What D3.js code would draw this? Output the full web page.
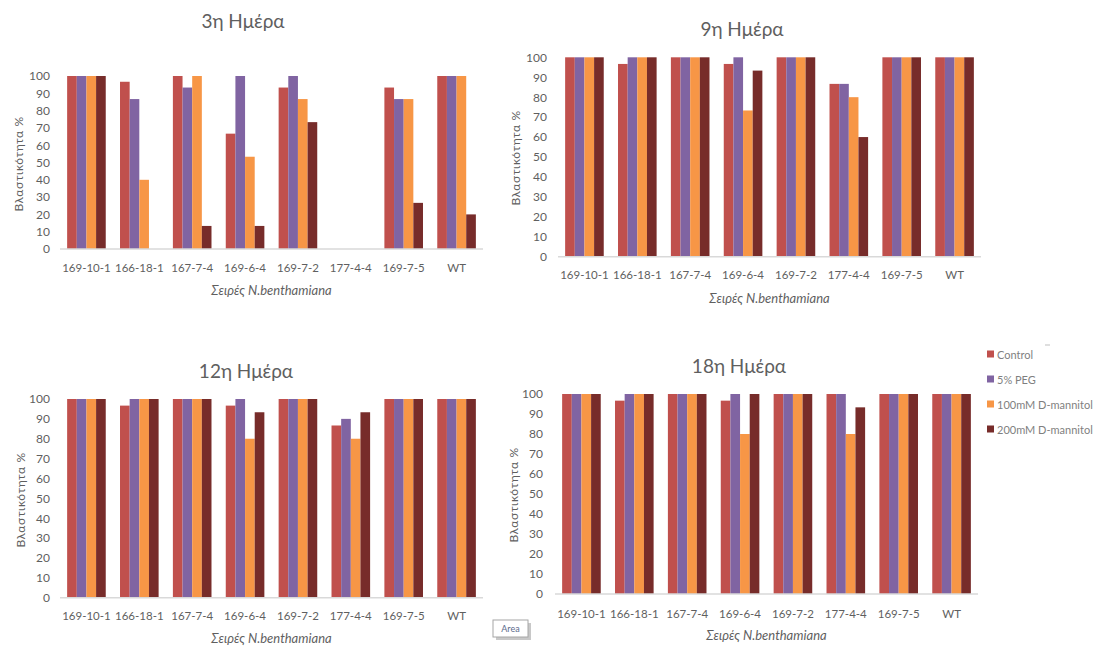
<!DOCTYPE html>
<html>
<head>
<meta charset="utf-8">
<script src="https://cdn.jsdelivr.net/npm/d3@7"></script>
<style>
  html, body { margin: 0; padding: 0; background: #ffffff; }
  svg { display: block; }
  text { font-family: Lato, "Open Sans", "Liberation Sans", sans-serif; }
</style>
</head>
<body>
<svg id="chart" width="1107" height="649"></svg>
<script>
// Plant lines and treatments
const categories = ["169-10-1", "166-18-1", "167-7-4", "169-6-4", "169-7-2", "177-4-4", "169-7-5", "WT"];
const seriesNames = ["Control", "5% PEG", "100mM D-mannitol", "200mM D-mannitol"];
const seriesColors = ["#C0504D", "#8064A2", "#F79646", "#772C2A"];
const yTicks = [0, 10, 20, 30, 40, 50, 60, 70, 80, 90, 100];

// Germination % — day 3
const day3Control = [100, 96.67, 100, 66.67, 93.33, 0, 93.33, 100];
const day3Peg     = [100, 86.67, 93.33, 100, 100, 0, 86.67, 100];
const day3Man100  = [100, 40, 100, 53.33, 86.67, 0, 86.67, 100];
const day3Man200  = [100, 0, 13.33, 13.33, 73.33, 0, 26.67, 20];

// Day 9
const day9Control = [100, 96.67, 100, 96.67, 100, 86.67, 100, 100];
const day9Peg     = [100, 100, 100, 100, 100, 86.67, 100, 100];
const day9Man100  = [100, 100, 100, 73.33, 100, 80, 100, 100];
const day9Man200  = [100, 100, 100, 93.33, 100, 60, 100, 100];

// Day 12
const day12Control = [100, 96.67, 100, 96.67, 100, 86.67, 100, 100];
const day12Peg     = [100, 100, 100, 100, 100, 90, 100, 100];
const day12Man100  = [100, 100, 100, 80, 100, 80, 100, 100];
const day12Man200  = [100, 100, 100, 93.33, 100, 93.33, 100, 100];

// Day 18
const day18Control = [100, 96.67, 100, 96.67, 100, 100, 100, 100];
const day18Peg     = [100, 100, 100, 100, 100, 100, 100, 100];
const day18Man100  = [100, 100, 100, 80, 100, 80, 100, 100];
const day18Man200  = [100, 100, 100, 100, 100, 93.33, 100, 100];

const panelTitles = ["3η Ημέρα", "9η Ημέρα", "12η Ημέρα", "18η Ημέρα"];
const yAxisTitle = "Βλαστικότητα %";
const xAxisTitle = "Σειρές N.benthamiana";

const panelSeries = [
  [day3Control, day3Peg, day3Man100, day3Man200],
  [day9Control, day9Peg, day9Man100, day9Man200],
  [day12Control, day12Peg, day12Man100, day12Man200],
  [day18Control, day18Peg, day18Man100, day18Man200]
];

// Placement of each small chart on the page
const panelLayout = [
  { left: 60,  right: 483, top: 76,    bottom: 249,   titleX: 243, titleY: 20,  tickX: 50,  xLabY: 267, xTitY: 290, yTitX: 18,  yTitY: 164 },
  { left: 558, right: 981, top: 57.3,  bottom: 256.7, titleX: 742, titleY: 28,  tickX: 547, xLabY: 275, xTitY: 298, yTitX: 515, yTitY: 158 },
  { left: 60,  right: 483, top: 399,   bottom: 597.7, titleX: 246, titleY: 370, tickX: 50,  xLabY: 616, xTitY: 638, yTitX: 20,  yTitY: 500 },
  { left: 555, right: 978, top: 394,   bottom: 594,   titleX: 739, titleY: 365, tickX: 543, xLabY: 613, xTitY: 635, yTitX: 513, yTitY: 495 }
];

const svg = d3.select("#chart");
const textGray = "#5f5f5f";
const fontStack = "Lato, 'Open Sans', sans-serif";

panelLayout.forEach((L, p) => {
  const g = svg.append("g");
  const x0 = d3.scaleBand().domain(categories).range([L.left, L.right])
    .paddingInner(0.27).paddingOuter(0.135);
  const x1 = d3.scaleBand().domain(d3.range(seriesNames.length)).range([0, x0.bandwidth()]);
  const y = d3.scaleLinear().domain([0, 100]).range([L.bottom, L.top]);

  // Title
  g.append("text")
    .attr("x", L.titleX).attr("y", L.titleY)
    .attr("text-anchor", "middle").attr("dominant-baseline", "central")
    .attr("font-size", 19).attr("fill", textGray)
    .text(panelTitles[p]);

  // Y axis: labels only
  const yAxis = d3.axisLeft(y).tickValues(yTicks).tickSize(0).tickPadding(0);
  const ya = g.append("g").attr("transform", `translate(${L.tickX},0)`).call(yAxis);
  ya.select(".domain").remove();
  ya.selectAll("text").attr("font-size", 12).attr("fill", textGray)
    .style("font-family", fontStack);

  // Bars
  const groups = g.selectAll("g.cat").data(categories).join("g")
    .attr("class", "cat")
    .attr("transform", d => `translate(${x0(d)},0)`);
  groups.selectAll("rect")
    .data((c, i) => panelSeries[p].map((s, k) => ({ k, v: s[i] })))
    .join("rect")
    .attr("x", d => x1(d.k))
    .attr("width", x1.bandwidth())
    .attr("y", d => y(d.v))
    .attr("height", d => y(0) - y(d.v))
    .attr("fill", d => seriesColors[d.k]);

  // X axis: light baseline + category labels
  const xAxis = d3.axisBottom(x0).tickSize(0).tickPadding(0);
  const xa = g.append("g").attr("transform", `translate(0,${y(0)})`).call(xAxis);
  xa.select(".domain").attr("stroke", "#d9d9d9").attr("stroke-width", 1.5)
    .attr("d", `M${L.left},0H${L.right}`);
  xa.selectAll(".tick text")
    .attr("y", L.xLabY - y(0)).attr("dy", null)
    .attr("dominant-baseline", "central")
    .attr("font-size", 11.5).attr("fill", textGray)
    .style("font-family", fontStack);

  // Axis titles
  g.append("text")
    .attr("x", (L.left + L.right) / 2).attr("y", L.xTitY)
    .attr("text-anchor", "middle").attr("dominant-baseline", "central")
    .attr("font-size", 13).attr("font-style", "italic").attr("fill", textGray)
    .text(xAxisTitle);
  g.append("text")
    .attr("transform", `translate(${L.yTitX},${L.yTitY}) rotate(-90)`)
    .attr("text-anchor", "middle").attr("dominant-baseline", "central")
    .attr("font-size", 12).attr("letter-spacing", 0.6).attr("fill", textGray)
    .text(yAxisTitle);
});

// Legend
const legendY = d3.scalePoint().domain(seriesNames).range([354, 429]);
const legend = svg.append("g");
const items = legend.selectAll("g").data(seriesNames).join("g")
  .attr("transform", d => `translate(987,${legendY(d)})`);
items.append("rect").attr("x", 0).attr("y", -3.5).attr("width", 7).attr("height", 7)
  .attr("fill", (d, i) => seriesColors[i]);
items.append("text").attr("x", 10).attr("y", 0).attr("dominant-baseline", "central")
  .attr("font-size", 11).attr("fill", "#7f7f7f").text(d => d);
legend.append("line").attr("x1", 1045).attr("x2", 1050).attr("y1", 345).attr("y2", 345)
  .attr("stroke", "#bfbfbf").attr("stroke-width", 1);

// Small "Area" tag
const tag = svg.append("g");
tag.append("rect").attr("x", 496).attr("y", 623).attr("width", 35).attr("height", 17).attr("fill", "#c8c8c8");
tag.append("rect").attr("x", 493).attr("y", 620).attr("width", 35).attr("height", 17)
  .attr("fill", "#ffffff").attr("stroke", "#a6a6a6").attr("stroke-width", 1);
tag.append("text").attr("x", 510.5).attr("y", 628.5).attr("text-anchor", "middle")
  .attr("dominant-baseline", "central").attr("font-size", 9).attr("fill", "#5b6b8c").text("Area");
</script>
</body>
</html>
